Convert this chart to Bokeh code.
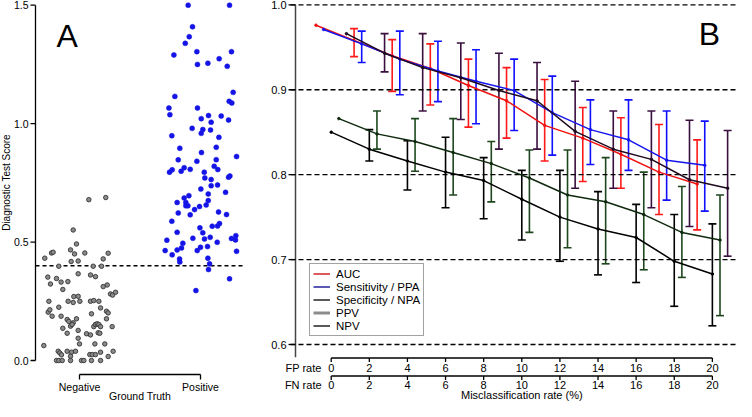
import math
from bokeh.plotting import figure
from bokeh.models import (Range1d, Whisker, TeeHead, ColumnDataSource, Legend, LegendItem)
from bokeh.core.properties import value
from bokeh.layouts import row
from bokeh.embed import file_html
from bokeh.resources import INLINE

FONT = "Liberation Sans"

# ---------------- Panel A data ----------------
groups = ["Negative", "Positive"]
group_pos = [1, 2]
threshold = 0.4
y_ticks_A = [0.0, 0.5, 1.0, 1.5]
neg_x = [1.077,1.217,0.948,0.975,0.713,0.769,0.782,0.926,0.959,0.931,0.989,1.044,1.237,1.196,0.829,1.113,1.182,
         0.738,0.810,0.760,0.848,0.904,0.862,0.989,1.091,1.132,1.196,1.229,1.256,1.273,1.298,
         0.747,0.953,0.989,0.906,0.948,1.003,1.091,1.118,1.160,0.829,0.741,0.755,0.774,0.848,1.099,1.174,1.223,1.237,1.223,
         0.898,0.912,0.975,0.948,0.926,0.939,0.862,0.989,0.898,
         1.118,1.132,1.146,1.160,1.174,1.154,1.168,1.058,1.091,1.270,
         0.989,1.000,1.127,0.705,
         0.824,0.837,0.851,0.898,0.934,0.926,0.967,1.085,1.105,1.132,1.174,1.209,1.237,1.278,
         0.810,0.829,0.857,0.926,1.017,1.036,1.099,1.174]
neg_y = [0.679,0.688,0.551,0.492,0.432,0.454,0.457,0.467,0.450,0.418,0.420,0.454,0.453,0.429,0.398,0.398,0.398,
         0.352,0.346,0.323,0.331,0.333,0.300,0.366,0.361,0.354,0.312,0.319,0.281,0.276,0.288,
         0.250,0.270,0.271,0.250,0.245,0.250,0.250,0.253,0.250,0.225,0.204,0.214,0.187,0.187,0.197,0.222,0.208,0.201,0.176,
         0.173,0.165,0.176,0.159,0.145,0.152,0.136,0.127,0.115,
         0.143,0.152,0.155,0.152,0.143,0.117,0.115,0.113,0.108,0.143,
         0.094,0.070,0.070,0.063,
         0.039,0.032,0.024,0.039,0.035,0.018,0.039,0.025,0.025,0.025,0.035,0.070,0.017,0.039,
         0.0,0.0,0.0,0.0,0.0,0.0,0.0,0.0]
pos_x = [1.898,2.240,1.934,1.907,1.874,1.780,1.970,2.256,1.975,2.061,2.154,2.221,2.270,1.788,2.237,2.259,1.739,1.747,
         1.975,2.006,2.066,2.088,2.171,2.232,1.931,2.019,2.006,2.083,1.763,2.152,1.829,2.008,2.130,2.298,1.816,1.970,
         2.130,1.744,1.766,1.840,1.865,1.915,2.113,2.143,2.031,2.036,2.088,2.232,2.243,2.088,2.141,2.003,2.207,1.904,
         2.064,1.865,1.807,1.879,2.064,1.879,1.896,1.992,1.951,2.047,1.816,1.915,2.149,2.215,1.763,2.097,2.141,2.157,
         1.995,1.807,2.019,2.080,2.033,1.937,1.722,1.854,2.138,2.256,2.292,2.289,1.708,1.807,1.843,2.000,1.973,2.058,
         2.298,1.766,1.827,1.829,2.061,2.075,2.066,2.240,1.962]
pos_y = [1.500,1.500,1.409,1.367,1.339,1.290,1.304,1.304,1.250,1.255,1.274,1.242,1.132,1.115,1.094,1.087,1.066,1.038,
         1.066,1.021,1.034,1.006,1.032,1.015,0.980,0.975,0.959,0.973,0.949,0.942,0.896,0.878,0.900,0.861,0.847,0.841,
         0.848,0.795,0.805,0.799,0.814,0.807,0.820,0.806,0.795,0.771,0.764,0.774,0.779,0.738,0.741,0.724,0.710,0.696,
         0.703,0.686,0.667,0.667,0.675,0.653,0.653,0.650,0.637,0.657,0.623,0.615,0.627,0.616,0.588,0.567,0.568,0.578,
         0.560,0.541,0.539,0.520,0.513,0.516,0.508,0.495,0.499,0.515,0.527,0.509,0.464,0.467,0.475,0.478,0.464,0.481,
         0.461,0.446,0.429,0.416,0.432,0.408,0.384,0.345,0.295]

# ---------------- Panel B data ----------------
rates = [0, 2, 4, 6, 8, 10, 12, 14, 16, 18, 20]
auc_mean  = [0.976, 0.958, 0.940, 0.925, 0.905, 0.887, 0.858, 0.843, 0.824, 0.803, 0.789]
auc_lo    = [0.976, 0.939, 0.898, 0.882, 0.856, 0.843, 0.816, 0.792, 0.784, 0.753, 0.735]
auc_hi    = [0.976, 0.972, 0.959, 0.954, 0.936, 0.926, 0.912, 0.879, 0.867, 0.859, 0.841]
sens_mean = [0.971, 0.954, 0.936, 0.922, 0.910, 0.899, 0.873, 0.853, 0.841, 0.817, 0.811]
sens_lo   = [0.971, 0.932, 0.894, 0.886, 0.860, 0.852, 0.823, 0.812, 0.805, 0.770, 0.757]
sens_hi   = [0.971, 0.969, 0.969, 0.957, 0.947, 0.936, 0.916, 0.888, 0.888, 0.875, 0.863]
spec_mean = [0.966, 0.943, 0.926, 0.914, 0.899, 0.887, 0.851, 0.830, 0.818, 0.794, 0.784]
spec_lo   = [0.966, 0.921, 0.875, 0.865, 0.830, 0.830, 0.784, 0.784, 0.761, 0.739, 0.704]
spec_hi   = [0.966, 0.966, 0.966, 0.955, 0.943, 0.932, 0.910, 0.875, 0.875, 0.864, 0.852]
ppv_mean  = [0.866, 0.848, 0.839, 0.826, 0.813, 0.796, 0.776, 0.768, 0.753, 0.732, 0.723]
ppv_lo    = [0.866, 0.830, 0.804, 0.776, 0.768, 0.732, 0.714, 0.695, 0.688, 0.679, 0.634]
ppv_hi    = [0.866, 0.875, 0.866, 0.866, 0.839, 0.829, 0.829, 0.820, 0.803, 0.786, 0.776]
npv_mean  = [0.850, 0.830, 0.816, 0.803, 0.793, 0.771, 0.750, 0.736, 0.726, 0.698, 0.683]
npv_lo    = [0.850, 0.816, 0.782, 0.761, 0.748, 0.723, 0.698, 0.682, 0.673, 0.645, 0.622]
npv_hi    = [0.850, 0.853, 0.840, 0.844, 0.820, 0.805, 0.805, 0.780, 0.765, 0.753, 0.742]
legend_labels = ["AUC", "Sensitivity / PPA", "Specificity / NPA", "PPV", "NPV"]
axis_rows = ["FP rate", "FN rate"]
y_ticks_B = [0.6, 0.7, 0.8, 0.9, 1.0]

H = 401
BLACK = "black"


def txt(p, x, y, t, size, align="center", baseline="middle", angle=0.0):
    p.text(x=x, y=y, text=t, text_font=value(FONT), text_font_size=value(size),
           text_align=align, text_baseline=baseline, text_color=BLACK, angle=angle)


# ================= Panel A (pixel layout helpers) =================
A_W = 245
A_X1, A_X2 = 79.0, 200.0          # px of the two groups
A_Y0, A_Y15 = 360.0, 4.7          # px of score 0 and 1.5
a_kx = A_X2 - A_X1
a_ky = (A_Y0 - A_Y15) / 1.5
def ax(px): return group_pos[0] + (px - A_X1) / a_kx
def ay(py): return (A_Y0 - py) / a_ky

pA = figure(width=A_W, height=H, x_range=Range1d(ax(0), ax(A_W)), y_range=Range1d(ay(H), ay(0)),
            x_axis_location=None, y_axis_location=None, output_backend="svg", toolbar_location=None,
            min_border=0, min_border_left=0, min_border_right=0, min_border_top=0, min_border_bottom=0)
pA.outline_line_color = None
pA.grid.visible = False

# y axis
pA.segment(x0=[ax(35)], y0=[y_ticks_A[0]], x1=[ax(35)], y1=[y_ticks_A[-1]], line_color=BLACK, line_width=1.3)
pA.segment(x0=[ax(30)] * 4, y0=y_ticks_A, x1=[ax(35)] * 4, y1=y_ticks_A, line_color=BLACK, line_width=1.3)
txt(pA, [ax(28)] * 4, y_ticks_A, ["%.1f" % t for t in y_ticks_A], "10.5px", align="right")
txt(pA, [ax(6)], [ay(182)], ["Diagnostic Test Score"], "10px", angle=math.pi / 2)
# x axis
pA.segment(x0=[group_pos[0]], y0=[ay(374)], x1=[group_pos[1]], y1=[ay(374)], line_color=BLACK, line_width=1.3)
pA.segment(x0=group_pos, y0=[ay(374)] * 2, x1=group_pos, y1=[ay(379)] * 2, line_color=BLACK, line_width=1.3)
txt(pA, group_pos, [ay(386)] * 2, groups, "10.5px")
txt(pA, [sum(group_pos) / 2], [ay(395)], ["Ground Truth"], "10.5px")

pA.segment(x0=[ax(35)], y0=[threshold], x1=[ax(A_W)], y1=[threshold], line_color=BLACK,
           line_dash="4 3", line_width=1.3)
pA.scatter(neg_x, neg_y, marker="circle", size=4.5, fill_color="#8a8a8a",
           line_color="#333333", line_width=0.9)
pA.scatter(pos_x, pos_y, marker="circle", size=5, fill_color="#1414e6",
           line_color="#1414e6", line_width=0.5)
txt(pA, [ax(56)], [ay(35)], ["A"], "32px", align="left", baseline="alphabetic")

# ================= Panel B (pixel layout helpers) =================
B_LEFT, B_W = 245, 736 - 245
KX = (736 - 295) / (752 - 295)
def bc(ref_px): return 295 + (ref_px - 295) * KX
B_X0, B_X20 = bc(332), bc(727)
b_kx = (B_X20 - B_X0) / (rates[-1] - rates[0])
def bx(cpx): return rates[0] + (cpx - B_X0) / b_kx
B_Y10, B_Y06 = 4.3, 344.0
b_ky = (B_Y06 - B_Y10) / 0.4
def by(py): return 1.0 - (py - B_Y10) / b_ky

pB = figure(width=B_W, height=H, x_range=Range1d(bx(B_LEFT), bx(736)), y_range=Range1d(by(H), by(0)),
            x_axis_location=None, y_axis_location=None, output_backend="svg", toolbar_location=None,
            min_border=0, min_border_left=0, min_border_right=0, min_border_top=0, min_border_bottom=0)
pB.outline_line_color = None
pB.grid.visible = False

nyt = len(y_ticks_B)
# dashed grid
pB.segment(x0=[bx(290)] * nyt, y0=y_ticks_B, x1=[bx(736)] * nyt, y1=y_ticks_B,
           line_color=BLACK, line_dash="5 3", line_width=1.3)
# y axis
pB.segment(x0=[bx(295)], y0=[by(356.7)], x1=[bx(295)], y1=[y_ticks_B[-1]], line_color="#444444", line_width=1.5)
pB.segment(x0=[bx(288)] * nyt, y0=y_ticks_B, x1=[bx(295)] * nyt, y1=y_ticks_B, line_color=BLACK, line_width=1.3)
txt(pB, [bx(286)] * nyt, y_ticks_B, ["%.1f" % t for t in y_ticks_B], "11px", align="right")

# two x axes below
for name, (line_py, lab_py) in zip(axis_rows, [(357.5, 367.0), (375.5, 384.5)]):
    n = len(rates)
    pB.segment(x0=[rates[0]], y0=[by(line_py)], x1=[rates[-1]], y1=[by(line_py)], line_color=BLACK, line_width=1.3)
    pB.segment(x0=rates, y0=[by(line_py)] * n, x1=rates, y1=[by(line_py + 4)] * n, line_color=BLACK, line_width=1.3)
    txt(pB, rates, [by(lab_py)] * n, [str(r) for r in rates], "11px")
    txt(pB, [bx(bc(322))], [by(lab_py)], [name], "11px", align="right")
txt(pB, [(rates[0] + rates[-1]) / 2], [by(394.5)], ["Misclassification rate (%)"], "11px")

series = [
    (auc_mean, auc_lo, auc_hi, -0.8, "#ee1111", "#ff1a1a"),
    (sens_mean, sens_lo, sens_hi, -0.4, "#1515ee", "#1010ff"),
    (npv_mean, npv_lo, npv_hi, 0.0, "#000000", "#000000"),
    (ppv_mean, ppv_lo, ppv_hi, 0.4, "#0f2a0f", "#1e471e"),
    (spec_mean, spec_lo, spec_hi, 0.8, "#1f0a1f", "#3a0f3f"),
]
for mean, lo, hi, off, lc, bcol in series:
    xs = [r + off for r in rates]
    src = ColumnDataSource(dict(x=xs, m=mean))
    wsrc = ColumnDataSource(dict(x=xs[1:], lo=lo[1:], hi=hi[1:]))
    pB.add_layout(Whisker(base="x", lower="lo", upper="hi", source=wsrc, line_color=bcol, line_width=1.6,
                          upper_head=TeeHead(size=8, line_color=bcol, line_width=1.6),
                          lower_head=TeeHead(size=8, line_color=bcol, line_width=1.6)))
    pB.line("x", "m", source=src, line_color=lc, line_width=1.5)
    pB.scatter("x", "m", source=src, marker="circle", size=2.5, color=lc)

leg_styles = [("#cc0000", 1.3), ("#00008b", 1.3), ("#000000", 1.3), ("#8c8c8c", 3), ("#000000", 1.3)]
items = []
for lab, (col, w) in zip(legend_labels, leg_styles):
    r = pB.line(x=[float("nan")] * 2, y=[float("nan")] * 2, line_color=col, line_width=w)
    items.append(LegendItem(label=lab, renderers=[r]))
legend = Legend(items=items, location=(int(round(bc(310) - B_LEFT)), H - 336),
                label_text_font=FONT, label_text_font_size="11.5px", label_text_color=BLACK,
                label_height=13, glyph_height=13, glyph_width=17, label_standoff=6, padding=3,
                spacing=0, margin=0, border_line_color="#444444", border_line_width=1.5,
                background_fill_color="white", background_fill_alpha=1.0)
pB.add_layout(legend)

txt(pB, [bx(bc(715) - 2)], [by(33.3)], ["B"], "32px", align="left", baseline="alphabetic")

layout = row(pA, pB, spacing=0)
open("out.html", "w").write(file_html(layout, INLINE))
